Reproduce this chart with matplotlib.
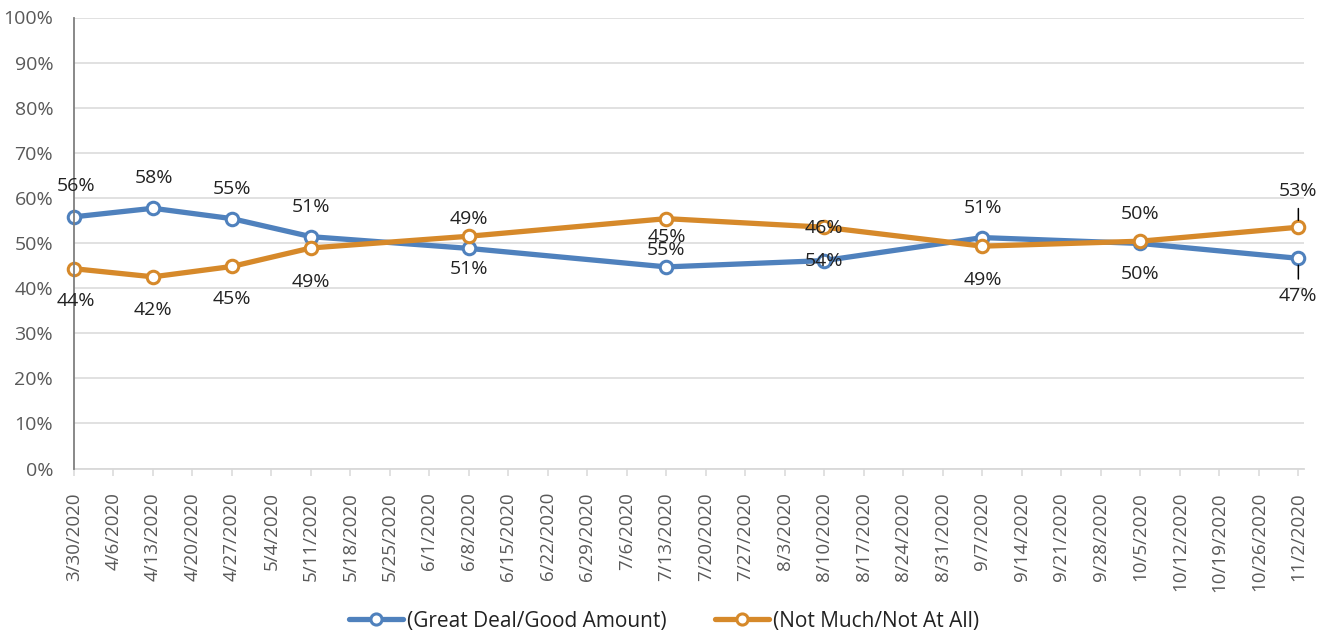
import datetime as dt

import matplotlib.pyplot as plt
from matplotlib.lines import Line2D
from matplotlib.ticker import MultipleLocator, PercentFormatter

plt.rcParams["font.family"] = ["Open Sans", "DejaVu Sans"]

# --- data -------------------------------------------------------------------
survey_dates = ["2020-03-30", "2020-04-13", "2020-04-27", "2020-05-11", "2020-06-08",
                "2020-07-13", "2020-08-10", "2020-09-07", "2020-10-05", "2020-11-02"]
great_deal = [55.8, 57.7, 55.4, 51.4, 48.8, 44.7, 46.1, 51.2, 49.9, 46.6]
not_much = [44.3, 42.5, 44.8, 48.9, 51.5, 55.4, 53.5, 49.3, 50.4, 53.5]
great_deal_labels = ["56%", "58%", "55%", "51%", "51%", "55%", "54%", "51%", "50%", "47%"]
not_much_labels = ["44%", "42%", "45%", "49%", "49%", "45%", "46%", "49%", "50%", "53%"]
series_names = ["(Great Deal/Good Amount)", "(Not Much/Not At All)"]

# label offsets from the point, in pixels (x, y up)
great_deal_offsets = [(2, 31), (1, 30), (0, 30), (0, 30), (0, -21), (0, 17),
                      (0, 0), (1, 30), (0, -31), (0, -38)]
not_much_offsets = [(2, -32), (0, -33), (0, -33), (0, -34), (0, 17), (0, -18),
                    (0, -1), (0, -34), (0, 27), (0, 36)]

BLUE = "#4F81BD"
ORANGE = "#D6892A"
GRID = "#D9D9D9"
AXIS_TXT = "#595959"
LABEL_TXT = "#222222"

dates = [dt.datetime.strptime(d, "%Y-%m-%d") for d in survey_dates]
first, last = dates[0], dates[-1]
week_ticks = []
d = first
while d <= last:
    week_ticks.append(d)
    d += dt.timedelta(days=7)

fig = plt.figure(figsize=(13.28, 6.34), dpi=100)
ax = fig.add_axes([74 / 1328, 1 - 468.5 / 634, (1304 - 74) / 1328, (468.5 - 17.5) / 634])

ax.set_ylim(0, 100)
ax.set_xlim(first, last + dt.timedelta(days=1))
ax.yaxis.set_major_locator(MultipleLocator(10))
ax.yaxis.set_major_formatter(PercentFormatter(decimals=0))
ax.grid(axis="y", color=GRID, linewidth=1.1)
ax.set_axisbelow(True)

ax.set_xticks(week_ticks)
ax.set_xticklabels([f"{t.month}/{t.day}/{t.year}" for t in week_ticks],
                   rotation=90, va="top", ha="center")
ax.tick_params(axis="x", length=5, color=GRID, width=1.1, pad=12,
               labelsize=13.5, labelcolor=AXIS_TXT)
ax.tick_params(axis="y", length=0, pad=15, labelsize=14, labelcolor=AXIS_TXT)

for side in ("top", "right"):
    ax.spines[side].set_visible(False)
ax.spines["bottom"].set_color(GRID)
ax.spines["bottom"].set_linewidth(1.3)
ax.spines["left"].set_color("#7F7F7F")
ax.spines["left"].set_linewidth(1.3)
ax.spines["left"].set_zorder(5)

style = dict(linewidth=3.8, marker="o", markersize=9, markerfacecolor="white",
             markeredgewidth=2.2, clip_on=False, solid_capstyle="round")
ax.plot(dates, great_deal, color=BLUE, zorder=3, **style)
ax.plot(dates, not_much, color=ORANGE, zorder=4, **style)

for vals, labels, offs in ((great_deal, great_deal_labels, great_deal_offsets),
                           (not_much, not_much_labels, not_much_offsets)):
    for x, y, lab, (dx, dy) in zip(dates, vals, labels, offs):
        leader = None
        if x == last:
            leader = dict(arrowstyle="-", color="black", lw=1.1, shrinkA=4, shrinkB=5)
        ax.annotate(lab, (x, y), xytext=(dx, dy), textcoords="offset pixels",
                    ha="center", va="center", fontsize=14, color=LABEL_TXT,
                    zorder=6, arrowprops=leader, annotation_clip=False)

handles = [Line2D([], [], color=c, linewidth=3.8, marker="o", markersize=8,
                  markerfacecolor="white", markeredgewidth=2.2, solid_capstyle="round")
           for c in (BLUE, ORANGE)]
fig.legend(handles, series_names, loc="center", bbox_to_anchor=(0.5, 1 - 621 / 634),
           ncol=2, frameon=False, fontsize=15, handlelength=2.6,
           handletextpad=0.2, columnspacing=2.3, labelcolor=LABEL_TXT)

fig.savefig("out.png", dpi=100, facecolor="white")
